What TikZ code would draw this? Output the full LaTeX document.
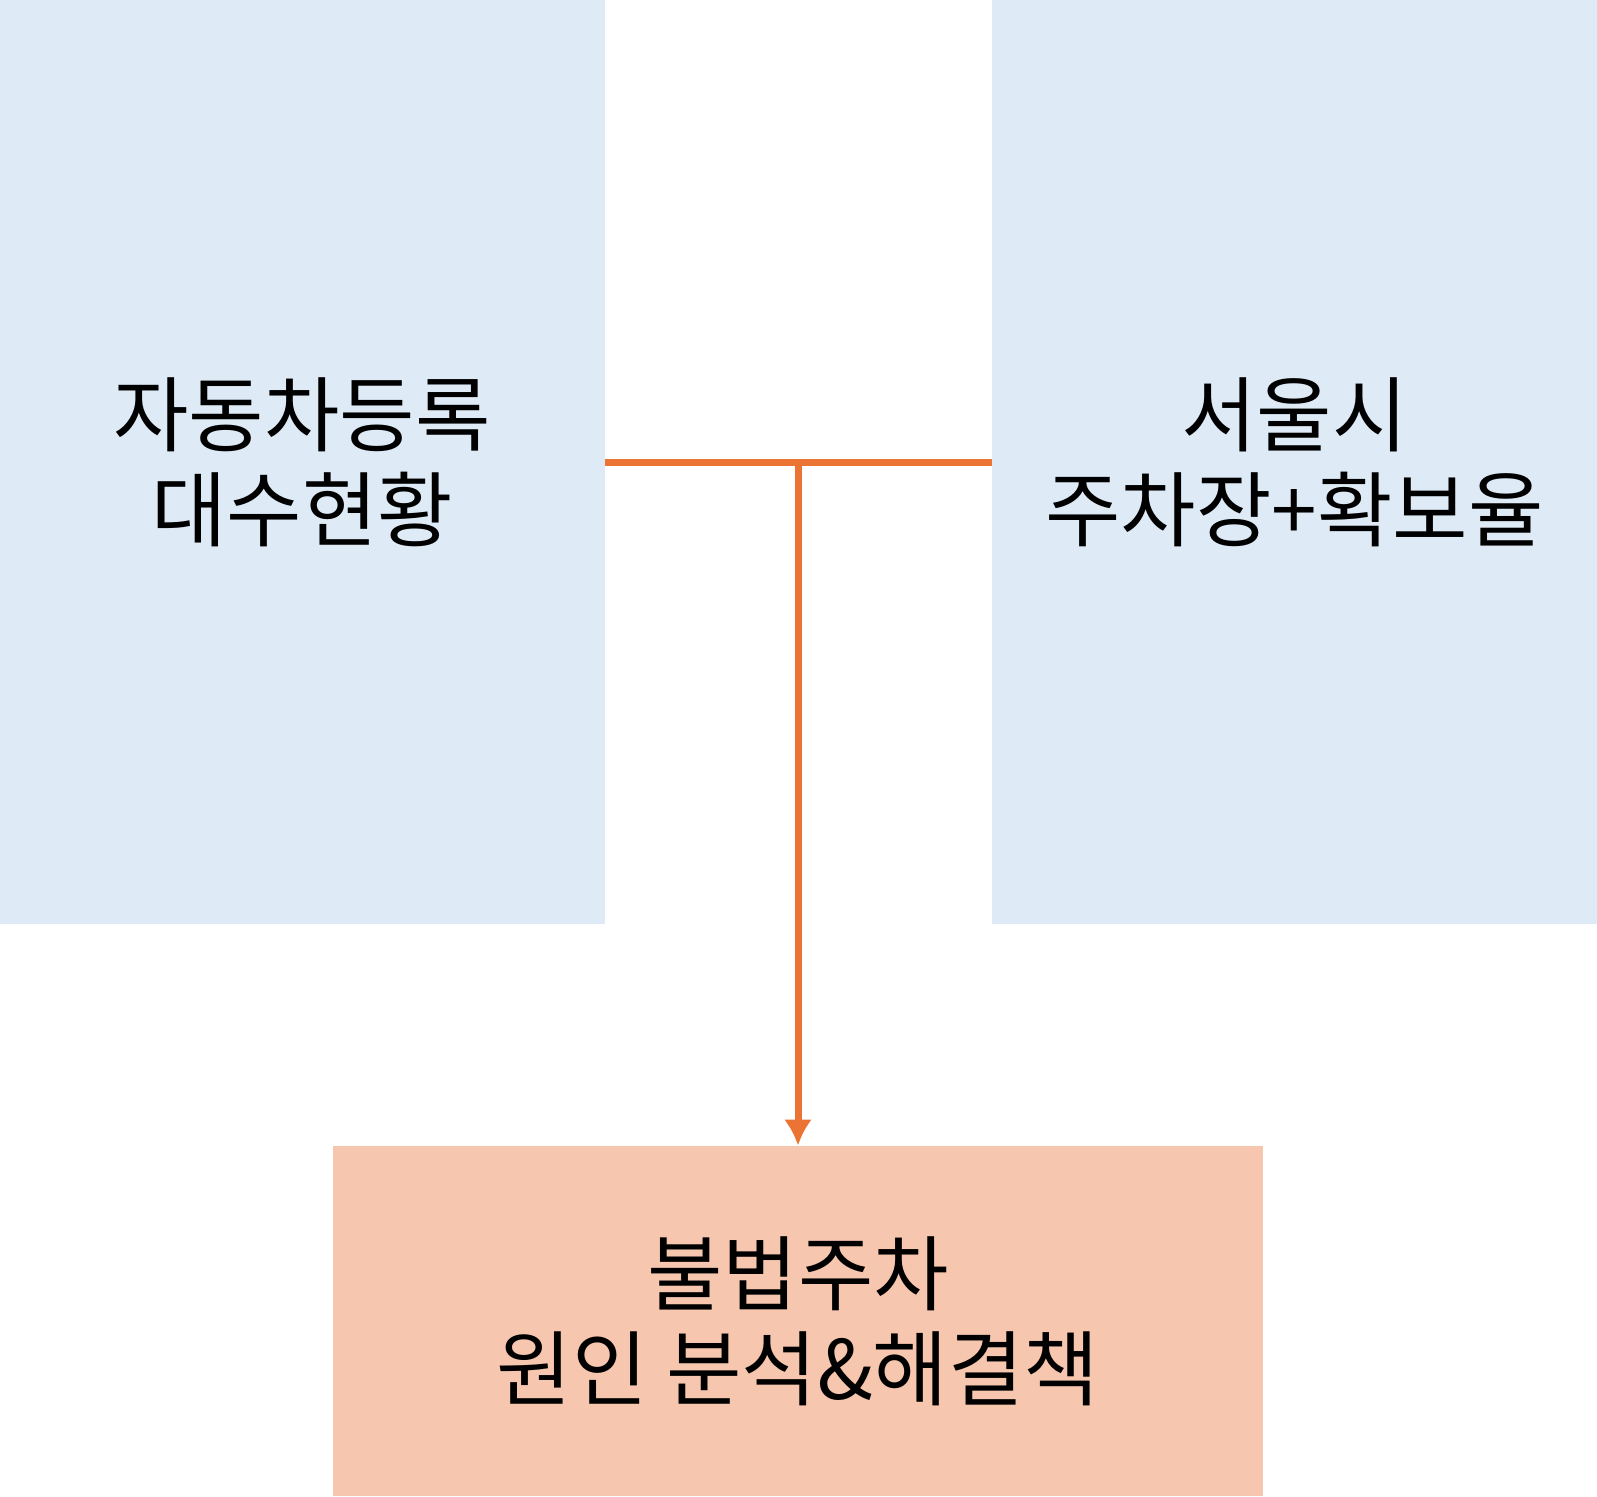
\documentclass[tikz,border=0pt]{standalone}
\usepackage{fontspec}
\setmainfont{Noto Sans CJK KR}
\usepackage{tikz}
\usetikzlibrary{arrows.meta}
\definecolor{boxblue}{HTML}{DEEBF7}
\definecolor{boxsalmon}{HTML}{F6C6AE}
\definecolor{lineorange}{HTML}{EB7434}
\tikzset{
  databox/.style={fill=boxblue, draw=none, align=center, inner sep=0pt,
    minimum width=302.5pt, minimum height=462pt,
    font=\fontsize{41}{47.5}\selectfont},
  resultbox/.style={fill=boxsalmon, draw=none, align=center, inner sep=0pt,
    minimum width=465pt, minimum height=175pt,
    font=\fontsize{41}{47.5}\selectfont},
}
\begin{document}
\begin{tikzpicture}[x=0.5pt,y=-0.5pt, >={Latex[length=13pt,width=14pt]}]
    \useasboundingbox (0,0) rectangle (1597,1496);
    \node[databox](cars) at (302,462) {자동차등록\\대수현황};
    \node[databox](parking) at (1294.5,462) {서울시\\주차장+확보율};
    \node[resultbox](illegal) at (798,1321) {불법주차\\원인 분석\&해결책};

    \coordinate(join) at (cars.east -| illegal.north);
    \draw[lineorange, line width=3.5pt](cars.east)--(parking.west);
    \draw[lineorange, line width=3.5pt, ->](join)--(illegal.north);
\end{tikzpicture}
\end{document}
